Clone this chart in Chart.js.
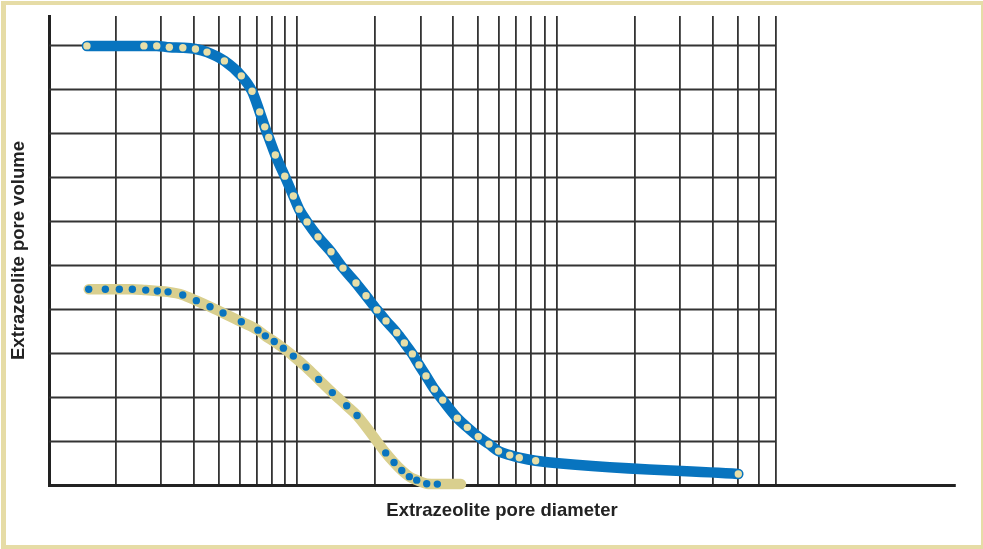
<!DOCTYPE html>
<html>
<head>
<meta charset="utf-8">
<script src="https://cdn.jsdelivr.net/npm/chart.js@4/dist/chart.umd.min.js"></script>
<style>
  html, body { margin: 0; padding: 0; background: #fff; }
  #wrap { position: relative; width: 983px; height: 549px; }
  #frame {
    position: absolute; left: 1px; top: 1px; width: 982px; height: 548px;
    box-sizing: border-box; border-style: solid; border-color: #e6dca6;
    border-width: 4px 2px 4px 5px; pointer-events: none;
  }
  canvas { position: absolute; left: 0; top: 0; }
</style>
</head>
<body>
<div id="wrap">
  <canvas id="chart" width="983" height="549"></canvas>
  <div id="frame"></div>
</div>
<script>
// pore diameter (log axis) and pore volume
const blueDiameter = [1.55, 2.57, 2.88, 3.22, 3.63, 4.06, 4.5, 5.25, 6.1, 6.71, 7.18, 7.51, 7.78, 8.25, 8.97, 9.68,
  10.18, 10.93, 12.05, 13.52, 15.04, 16.88, 18.45, 20.34, 22.03, 24.23, 25.92, 27.83, 29.52, 31.42, 33.82, 36.43,
  41.48, 45.33, 49.95, 54.95, 59.78, 66.03, 71.89, 83.13, 502];
const blueVolume = [9.98, 9.98, 9.98, 9.95, 9.94, 9.91, 9.84, 9.64, 9.3, 8.95, 8.48, 8.14, 7.9, 7.5, 7.02, 6.57,
  6.27, 5.98, 5.64, 5.3, 4.93, 4.59, 4.3, 3.98, 3.73, 3.46, 3.23, 2.98, 2.73, 2.48, 2.18, 1.93,
  1.52, 1.31, 1.1, 0.93, 0.77, 0.68, 0.62, 0.55, 0.25];

// last tan point is where the line ends, it has no dot
const tanDiameter = [1.575, 1.825, 2.066, 2.319, 2.612, 2.895, 3.184, 3.627, 4.092, 4.62, 5.186, 6.1, 7.07, 7.55,
  8.17, 8.86, 9.68, 10.83, 12.12, 13.68, 15.54, 17.03, 21.97, 23.65, 25.33, 27.09, 28.93, 31.61, 34.73, 42.85];
const tanVolume = [4.45, 4.45, 4.45, 4.45, 4.43, 4.41, 4.39, 4.32, 4.19, 4.05, 3.91, 3.71, 3.52, 3.39,
  3.26, 3.11, 2.93, 2.68, 2.4, 2.1, 1.8, 1.58, 0.73, 0.51, 0.33, 0.19, 0.11, 0.03, 0.02, 0.02];

// grid positions
const xGridTicks = [2, 3, 4, 5, 6, 7, 8, 9, 10, 20, 30, 40, 50, 60, 70, 80, 90, 100, 200, 300, 400, 500, 600, 700];
const yGridTicks = [1, 2, 3, 4, 5, 6, 7, 8, 9, 10];

const BLUE = "#0874bf";
const CREAM = "#e8dfa8";
const TAN = "#d9cf8e";
const GRID = "#333333";
const AXIS = "#222222";
const titleFont = { family: "'Liberation Sans', Arial, sans-serif", size: 18.5, weight: "bold" };

const toPoints = (xs, ys) => xs.map((x, i) => ({ x: x, y: ys[i] }));

// horizontal lines stop at the last vertical grid line
const hGridPlugin = {
  id: "hGrid",
  beforeDatasetsDraw(chart) {
    const { ctx, chartArea, scales } = chart;
    const right = scales.x.getPixelForValue(xGridTicks[xGridTicks.length - 1]);
    ctx.save();
    ctx.strokeStyle = GRID;
    ctx.lineWidth = 1.8;
    for (const v of yGridTicks) {
      const y = Math.round(scales.y.getPixelForValue(v)) + 0.5;
      ctx.beginPath();
      ctx.moveTo(chartArea.left, y);
      ctx.lineTo(right, y);
      ctx.stroke();
    }
    ctx.restore();
  },
};

const ctx = document.getElementById("chart").getContext("2d");
new Chart(ctx, {
  type: "line",
  data: {
    datasets: [
      {
        label: "tan",
        data: toPoints(tanDiameter, tanVolume),
        borderColor: TAN,
        borderWidth: 10.5,
        borderCapStyle: "round",
        borderJoinStyle: "round",
        cubicInterpolationMode: "monotone",
        pointRadius: (c) => (c.dataIndex === tanDiameter.length - 1 ? 0 : 3.7),
        pointBackgroundColor: BLUE,
        pointBorderWidth: 0,
        clip: false,
      },
      {
        label: "blue",
        data: toPoints(blueDiameter, blueVolume),
        borderColor: BLUE,
        borderWidth: 10.5,
        borderCapStyle: "round",
        borderJoinStyle: "round",
        cubicInterpolationMode: "monotone",
        pointRadius: 3.7,
        pointBackgroundColor: CREAM,
        pointBorderWidth: 0,
        clip: false,
      },
    ],
  },
  options: {
    responsive: false,
    animation: false,
    devicePixelRatio: 1,
    layout: { padding: { left: 0, right: 28, top: 16, bottom: 0 } },
    plugins: { legend: { display: false }, tooltip: { enabled: false } },
    scales: {
      x: {
        type: "logarithmic",
        min: 1.107,
        max: 3434,
        afterBuildTicks: (scale) => {
          scale.ticks = xGridTicks.map((v) => ({ value: v }));
        },
        ticks: { display: false },
        grid: { color: GRID, lineWidth: 1.8, drawTicks: false },
        border: { display: true, color: AXIS, width: 3 },
        title: {
          display: true,
          text: "Extrazeolite pore diameter",
          color: AXIS,
          font: titleFont,
          padding: { top: 14.9, bottom: 26.9 },
        },
      },
      y: {
        type: "linear",
        min: 0,
        max: 10.66,
        ticks: { display: false },
        grid: { display: false, drawTicks: false },
        border: { display: true, color: AXIS, width: 3 },
        title: {
          display: true,
          text: "Extrazeolite pore volume",
          color: AXIS,
          font: titleFont,
          padding: { top: 7.5, bottom: 19.3 },
        },
      },
    },
  },
  plugins: [hGridPlugin],
});
</script>
</body>
</html>
